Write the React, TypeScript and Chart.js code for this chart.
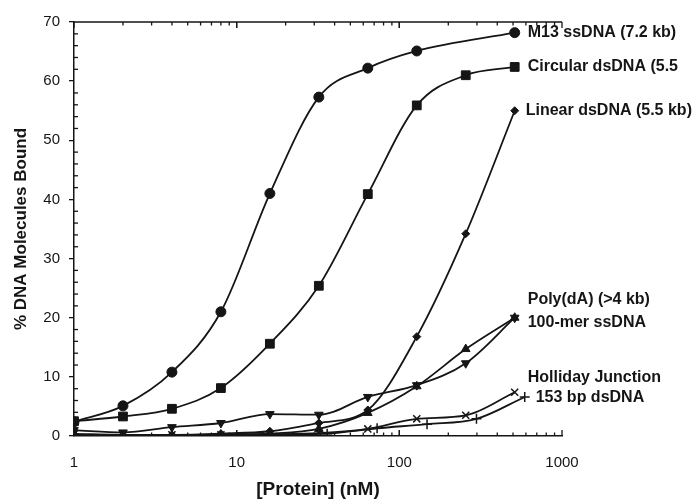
import React, { useEffect, useRef } from "react";
import { Chart, registerables } from "chart.js";

Chart.register(...registerables);

// ---- data ----
const concentrations = [1, 2, 4, 8, 16, 32, 64, 128, 256, 512];
const concentrations153 = [1, 2, 4, 8, 16, 36, 73, 148, 298, 590];

const m13ssDNA = [2.4, 5.1, 10.8, 21, 41, 57.3, 62.2, 65.1, null, 68.2];
const circularDsDNA = [2.5, 3.3, 4.6, 8.1, 15.6, 25.4, 40.9, 55.9, 61, 62.4];
const linearDsDNA = [0.3, 0.2, 0.2, 0.4, 0.8, 2.2, 4.4, 16.8, 34.2, 55];
const polyDA = [1.0, 0.6, 1.5, 2.2, 3.7, 3.6, 6.6, 8.6, 12.3, 20];
const mer100ssDNA = [0.2, 0.1, 0.1, 0.2, 0.4, 1.2, 3.9, 8.4, 14.7, 20];
const hollidayJunction = [0.3, 0.2, 0.2, 0.2, 0.3, 0.5, 1.2, 2.9, 3.5, 7.4];
const bp153dsDNA = [0.1, 0.1, 0.1, 0.1, 0.2, 0.4, 1.3, 2.0, 2.9, 6.6];

const seriesNames = [
  "M13 ssDNA (7.2 kb)",
  "Circular dsDNA (5.5",
  "Linear dsDNA (5.5 kb)",
  "Poly(dA) (>4 kb)",
  "100-mer ssDNA",
  "Holliday Junction",
  "153 bp dsDNA",
];

const yTicks = [0, 10, 20, 30, 40, 50, 60, 70];
const xTickLabels = [1, 10, 100, 1000];

// label placement offsets (pixels, relative to last point)
const labelOffsets = [
  [13, 0],
  [13, 0],
  [11, 0],
  [13, -18],
  [13, 5],
  [13, -15],
  [11, 1],
];

const INK = "#151515";
const FONT = '"Liberation Sans", Arial, Helvetica, sans-serif';

function pts(xs: number[], ys: (number | null)[]) {
  return xs.map((x, i) => ({ x, y: ys[i] }));
}

const labelPlugin = {
  id: "seriesLabels",
  afterDraw(chart: any) {
    const ctx = chart.ctx;
    const xs = chart.scales.x;
    const ys = chart.scales.y;
    const area = chart.chartArea;
    ctx.save();
    ctx.strokeStyle = INK;
    ctx.lineWidth = 1.3;
    // top frame line with ticks
    ctx.beginPath();
    ctx.moveTo(area.left, area.top);
    ctx.lineTo(area.right, area.top);
    ctx.stroke();
    for (let d = 1; d <= 100; d *= 10) {
      for (let m = 1; m <= 10; m++) {
        const v = d * m;
        const px = xs.getPixelForValue(v);
        const major = m === 1 || m === 10;
        const len = major ? 6 : 3.5;
        ctx.beginPath();
        ctx.moveTo(px, area.top);
        ctx.lineTo(px, area.top + len);
        ctx.stroke();
        ctx.beginPath();
        ctx.moveTo(px, area.bottom);
        ctx.lineTo(px, area.bottom - len);
        ctx.stroke();
      }
    }
    // y minor ticks (inside)
    for (let v = 2; v < 70; v += 2) {
      if (v % 10 === 0) continue;
      const py = ys.getPixelForValue(v);
      ctx.beginPath();
      ctx.moveTo(area.left, py);
      ctx.lineTo(area.left + 4, py);
      ctx.stroke();
    }
    // series labels
    ctx.fillStyle = INK;
    ctx.font = `bold 16px ${FONT}`;
    ctx.textAlign = "left";
    ctx.textBaseline = "middle";
    chart.data.datasets.forEach((ds: any, i: number) => {
      const last = ds.data[ds.data.length - 1];
      const px = xs.getPixelForValue(last.x);
      const py = ys.getPixelForValue(last.y);
      const [dx, dy] = labelOffsets[i];
      ctx.fillText(seriesNames[i], px + dx, py + dy);
    });
    ctx.restore();
  },
};

export default function App() {
  const ref = useRef<HTMLCanvasElement | null>(null);

  useEffect(() => {
    if (!ref.current) return;
    const mk = (
      label: string,
      xs: number[],
      ys: (number | null)[],
      style: string,
      radius: number,
      rotation = 0
    ) => ({
      label,
      data: pts(xs, ys),
      showLine: true,
      spanGaps: true,
      borderColor: INK,
      backgroundColor: INK,
      borderWidth: 1.8,
      cubicInterpolationMode: "monotone" as const,
      pointStyle: style,
      pointRadius: radius,
      pointRotation: rotation,
      pointBorderWidth: style === "cross" || style === "crossRot" ? 1.5 : 1,
      pointBackgroundColor: INK,
      pointBorderColor: INK,
    });

    const chart = new Chart(ref.current, {
      type: "scatter",
      data: {
        datasets: [
          mk(seriesNames[0], concentrations, m13ssDNA, "circle", 5),
          mk(seriesNames[1], concentrations, circularDsDNA, "rect", 6.2),
          mk(seriesNames[2], concentrations, linearDsDNA, "rectRot", 4),
          mk(seriesNames[3], concentrations, polyDA, "triangle", 5, 180),
          mk(seriesNames[4], concentrations, mer100ssDNA, "triangle", 5),
          mk(seriesNames[5], concentrations, hollidayJunction, "crossRot", 5),
          mk(seriesNames[6], concentrations153, bp153dsDNA, "cross", 5),
        ] as any,
      },
      options: {
        responsive: false,
        animation: false,
        layout: { padding: { left: 0, top: 22, right: 134, bottom: 0 } },
        plugins: { legend: { display: false }, tooltip: { enabled: false } },
        scales: {
          x: {
            type: "logarithmic",
            min: 1,
            max: 1000,
            border: { display: true, color: INK, width: 1.5 },
            grid: { display: false, drawTicks: false },
            afterBuildTicks: (s: any) => {
              s.ticks = xTickLabels.map((v) => ({ value: v }));
            },
            ticks: {
              autoSkip: false,
              maxRotation: 0,
              padding: 18,
              color: INK,
              font: { family: FONT, size: 15 },
              callback: (v: any) => String(v),
            },
            title: {
              display: true,
              text: "[Protein] (nM)",
              color: INK,
              font: { family: FONT, size: 19, weight: "bold" },
              padding: { top: 0, bottom: 3 },
            },
            afterFit: (s: any) => {
              s.height = 68;
            },
          },
          y: {
            min: 0,
            max: 70,
            border: { display: true, color: INK, width: 1.5 },
            grid: {
              display: true,
              drawOnChartArea: false,
              drawTicks: true,
              tickLength: 5,
              color: INK,
              lineWidth: 1.3,
            },
            afterBuildTicks: (s: any) => {
              s.ticks = yTicks.map((v) => ({ value: v }));
            },
            ticks: {
              padding: 9,
              color: INK,
              font: { family: FONT, size: 15 },
            },
            title: {
              display: true,
              text: "% DNA Molecules Bound",
              color: INK,
              font: { family: FONT, size: 17, weight: "bold" },
              padding: { top: 11, bottom: 0 },
            },
            afterFit: (s: any) => {
              s.width = 74;
            },
          },
        },
      },
      plugins: [labelPlugin],
    } as any);
    return () => chart.destroy();
  }, []);

  return (
    <div style={{ position: "absolute", left: 0, top: 0, width: 696, height: 504, background: "#fff" }}>
      <canvas ref={ref} width={696} height={504} style={{ display: "block" }} />
    </div>
  );
}
